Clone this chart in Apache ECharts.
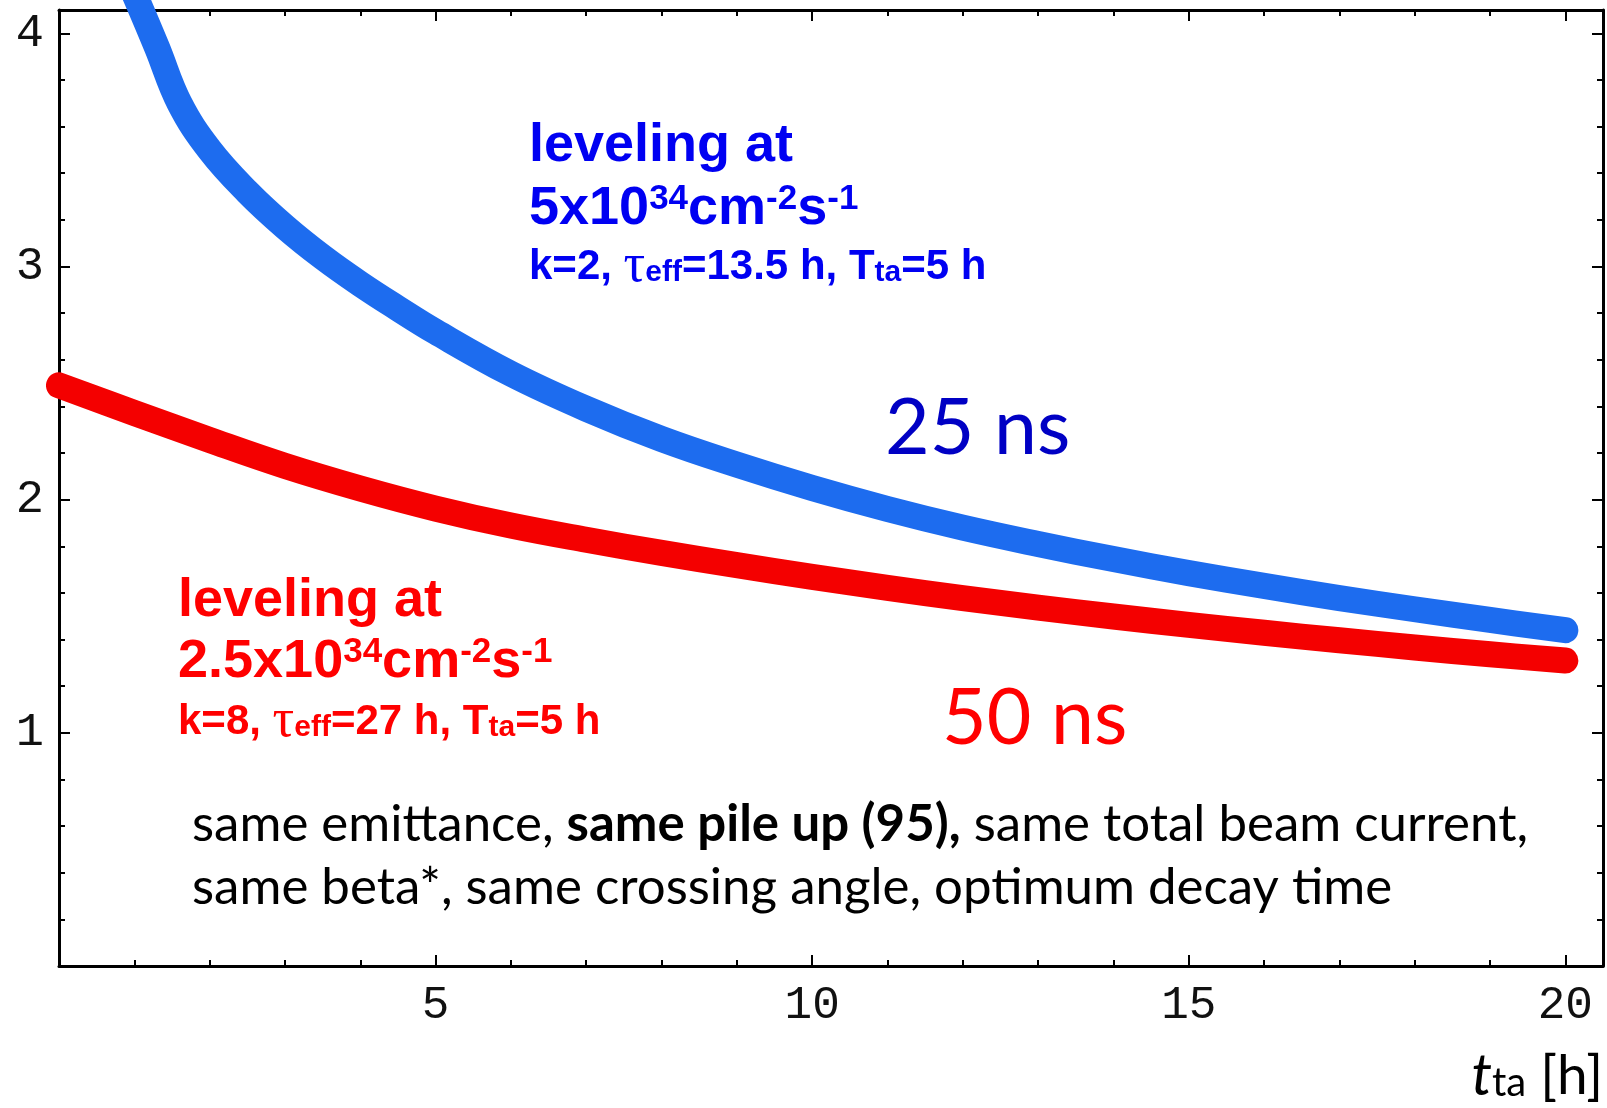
<!DOCTYPE html>
<html>
<head>
<meta charset="utf-8">
<script src="https://cdn.jsdelivr.net/npm/echarts@6/dist/echarts.min.js"></script>
<style>
  html, body { margin: 0; padding: 0; background: #ffffff; }
  #chart { width: 1607px; height: 1108px; }
</style>
</head>
<body>
<div id="chart"></div>
<script>
// Turnaround time t_ta [h] and the corresponding values for the two bunch spacings
const ns25X = [1.0, 1.3, 1.6, 2.0, 2.5, 3, 3.5, 4, 4.5, 5, 6, 7, 8, 9, 10, 11, 12, 13, 14, 15, 16, 17, 18, 19, 20];
const ns25Y = [4.17, 3.94, 3.70, 3.50, 3.32, 3.17, 3.04, 2.925, 2.82, 2.72, 2.54, 2.39, 2.26, 2.15, 2.05, 1.96, 1.88, 1.81, 1.745, 1.685, 1.63, 1.578, 1.53, 1.484, 1.44];

const ns50X = [0, 1, 2, 3, 4, 5, 6, 7, 8, 9, 10, 11, 12, 13, 14, 15, 16, 17, 18, 19, 20];
const ns50Y = [2.49, 2.372, 2.256, 2.145, 2.048, 1.962, 1.889, 1.828, 1.772, 1.719, 1.669, 1.622, 1.578, 1.537, 1.499, 1.463, 1.429, 1.397, 1.366, 1.337, 1.31];

const xTickLabels = [5, 10, 15, 20];
const yTickLabels = [1, 2, 3, 4];

const seriesNames = ['25 ns', '50 ns'];

const toPairs = (xs, ys) => xs.map((x, i) => [x, ys[i]]);

const LABEL_FONT = 'Liberation Mono';
const ANNOT_FONT = 'Liberation Sans';
const NOTE_FONT = 'Lato';

const BLUE_LINE = '#1d6cef';
const RED_LINE = '#f40000';
const BLUE_TEXT = '#0000f2';
const RED_TEXT = '#ff0000';

function levelRich(color) {
  return {
    b:   { fontFamily: ANNOT_FONT, fontWeight: 'bold', fontSize: 54, lineHeight: 54, fill: color },
    sup: { fontFamily: ANNOT_FONT, fontWeight: 'bold', fontSize: 35, lineHeight: 35, verticalAlign: 'top', fill: color },
    m:   { fontFamily: ANNOT_FONT, fontWeight: 'bold', fontSize: 42, lineHeight: 42, fill: color },
    tau: { fontFamily: 'Liberation Serif', fontWeight: 'normal', fontSize: 54, lineHeight: 42, fill: color },
    sub: { fontFamily: ANNOT_FONT, fontWeight: 'bold', fontSize: 30, lineHeight: 19, verticalAlign: 'bottom', fill: color }
  };
}

function textEl(x, y, text, rich, extra) {
  return Object.assign({
    type: 'text',
    x: x,
    y: y,
    silent: true,
    style: { text: text, rich: rich, align: 'left', verticalAlign: 'top' }
  }, extra || {});
}

const blueRich = levelRich(BLUE_TEXT);
const redRich = levelRich(RED_TEXT);

const noteRich = {
  n:  { fontFamily: NOTE_FONT, fontSize: 51, lineHeight: 51, fill: '#000000' },
  nb: { fontFamily: NOTE_FONT, fontWeight: 'bold', fontSize: 51, lineHeight: 51, fill: '#000000' }
};

const axisTitleRich = {
  it:  { fontFamily: NOTE_FONT, fontStyle: 'italic', fontSize: 58, lineHeight: 54, fill: '#000000' },
  sub: { fontFamily: NOTE_FONT, fontSize: 40, lineHeight: 17, verticalAlign: 'bottom', fill: '#000000' },
  n:   { fontFamily: NOTE_FONT, fontSize: 55, lineHeight: 54, fill: '#000000' }
};

function frameAxis(extra) {
  return Object.assign({
    type: 'value',
    splitLine: { show: false },
    axisLine: { show: true, onZero: false, lineStyle: { color: '#000000', width: 3 } },
    axisTick: { show: true, inside: true, length: 11, lineStyle: { color: '#000000', width: 2 } },
    minorTick: { show: true, splitNumber: 5, length: 6, lineStyle: { color: '#000000', width: 2 } },
    minorSplitLine: { show: false }
  }, extra);
}

const chart = echarts.init(document.getElementById('chart'), null, { renderer: 'canvas' });

chart.setOption({
  backgroundColor: '#ffffff',
  animation: false,
  grid: { left: 59, right: 4, top: 10, bottom: 142, containLabel: false },
  xAxis: [
    frameAxis({
      position: 'bottom', min: 0, max: 20.5, interval: 5,
      axisLabel: {
        margin: 17, fontFamily: LABEL_FONT, fontSize: 46, color: '#111111',
        formatter: v => (xTickLabels.indexOf(v) >= 0 ? String(v) : '')
      }
    }),
    frameAxis({
      position: 'top', min: 0, max: 20.5, interval: 5,
      axisLabel: { show: false }
    })
  ],
  yAxis: [
    frameAxis({
      position: 'left', min: 0, max: 4.1, interval: 1,
      axisLabel: {
        margin: 15, fontFamily: LABEL_FONT, fontSize: 47, color: '#111111',
        formatter: v => (yTickLabels.indexOf(v) >= 0 ? String(v) : '')
      }
    }),
    frameAxis({
      position: 'right', min: 0, max: 4.1, interval: 1,
      axisLabel: { show: false }
    })
  ],
  series: [
    {
      name: seriesNames[1], type: 'line', xAxisIndex: 0, yAxisIndex: 0,
      data: toPairs(ns50X, ns50Y), showSymbol: false, symbol: 'none',
      smooth: 0.4, clip: true,
      lineStyle: { color: RED_LINE, width: 26, cap: 'round', join: 'round' }
    },
    {
      name: seriesNames[0], type: 'line', xAxisIndex: 0, yAxisIndex: 0,
      data: toPairs(ns25X, ns25Y), showSymbol: false, symbol: 'none',
      smooth: 0.4, clip: true,
      lineStyle: { color: BLUE_LINE, width: 26, cap: 'round', join: 'round' }
    }
  ],
  graphic: [
    // 25 ns leveling annotation
    textEl(529, 119, '{b|leveling at}', blueRich),
    textEl(529, 182, '{b|5x10}{sup|34}{b|cm}{sup|-2}{b|s}{sup|-1}', blueRich),
    textEl(529, 246, '{m|k=2, }{tau|τ}{sub|eff}{m|=13.5 h, T}{sub|ta}{m|=5 h}', blueRich),
    // 50 ns leveling annotation
    textEl(178, 574, '{b|leveling at}', redRich),
    textEl(178, 635, '{b|2.5x10}{sup|34}{b|cm}{sup|-2}{b|s}{sup|-1}', redRich),
    textEl(178, 701, '{m|k=8, }{tau|τ}{sub|eff}{m|=27 h, T}{sub|ta}{m|=5 h}', redRich),
    // bunch spacing labels
    {
      type: 'text', x: 885, y: 391, silent: true,
      style: { text: seriesNames[0], fontFamily: NOTE_FONT, fontSize: 77, lineHeight: 77, fill: '#0000c4', align: 'left', verticalAlign: 'top' }
    },
    {
      type: 'text', x: 942, y: 681, silent: true,
      style: { text: seriesNames[1], fontFamily: NOTE_FONT, fontSize: 77, lineHeight: 77, fill: RED_TEXT, align: 'left', verticalAlign: 'top' }
    },
    // common conditions
    textEl(192, 799, '{n|same emittance, }{nb|same pile up (95),}{n| same total beam current,}', noteRich),
    textEl(192, 862, '{n|same beta*, same crossing angle, optimum decay time}', noteRich),
    // x axis title
    {
      type: 'text', x: 1603, y: 1049, silent: true,
      style: { text: '{it|t}{sub|ta}{n| [h]}', rich: axisTitleRich, align: 'right', verticalAlign: 'top' }
    }
  ]
});
</script>
</body>
</html>
